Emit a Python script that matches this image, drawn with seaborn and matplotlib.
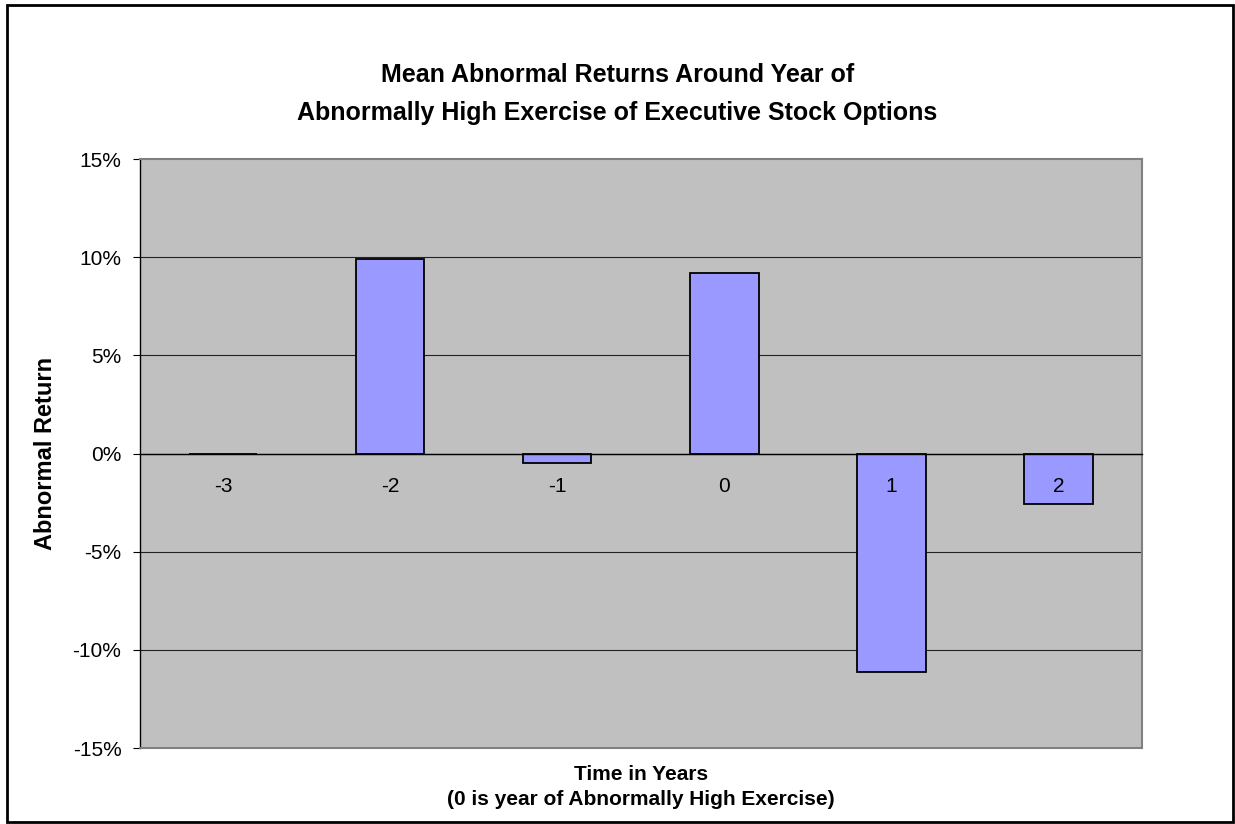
import numpy as np
import pandas as pd
import seaborn as sns
import matplotlib.pyplot as plt
from matplotlib.patches import Rectangle
from matplotlib.ticker import PercentFormatter, FixedLocator

years = ['-3', '-2', '-1', '0', '1', '2']
abn_returns = [0.0, 9.9, -0.5, 9.2, -11.15, -2.55]
y_ticks = [-15, -10, -5, 0, 5, 10, 15]

sns.set_theme(style="white", rc={'text.color': 'black', 'axes.labelcolor': 'black',
                                 'xtick.color': 'black', 'ytick.color': 'black'})
plt.rcParams['font.family'] = ['Liberation Sans', 'DejaVu Sans']
plt.rcParams['axes.unicode_minus'] = False

df = pd.DataFrame({'Year': years, 'Return': abn_returns})

fig = plt.figure(figsize=(12.35, 8.24), dpi=100)
ax = fig.add_axes([0.113, 0.0922, 0.8117, 0.7148])
ax.set_facecolor('#C0C0C0')

sns.barplot(data=df, x='Year', y='Return', order=years, color='#9999FF',
            saturation=1, width=0.41, edgecolor='black', linewidth=1.3, ax=ax)

ax.set_ylim(-15, 15)
ax.set_xlim(-0.5, len(years) - 0.5)
ax.yaxis.set_major_locator(FixedLocator(y_ticks))
ax.yaxis.set_major_formatter(PercentFormatter(decimals=0))
for t in y_ticks[1:-1]:
    ax.axhline(t, color='#222222', lw=0.8, zorder=0)

# zero axis with labels just under it, Excel style
ax.spines['bottom'].set_position(('data', 0))
ax.spines['bottom'].set_color('black')
ax.spines['bottom'].set_linewidth(1.0)
ax.spines['left'].set_color('black')
ax.spines['left'].set_linewidth(1.0)
for s in ['top', 'right']:
    ax.spines[s].set_color('#808080')
    ax.spines[s].set_linewidth(1.5)
ax.axhline(-15, color='#808080', lw=1.5, clip_on=False, zorder=5)
ax.xaxis.set_zorder(10)
ax.spines['bottom'].set_zorder(10)

ax.tick_params(axis='x', which='major', length=0, pad=17, labelsize=15, colors='black')
ax.set_xticks(np.arange(-0.5, len(years)), minor=True)
ax.tick_params(axis='x', which='minor', length=5, width=0.8, direction='out', color='#444444')
ax.tick_params(axis='y', length=5, width=0.8, direction='out', labelsize=15, pad=8, colors='black', left=True)

ax.set_xlabel('Time in Years\n(0 is year of Abnormally High Exercise)',
              fontsize=15, fontweight='bold', linespacing=1.45)
ax.xaxis.set_label_coords(0.5, -0.028)
ax.xaxis.label.set_verticalalignment('top')
ax.set_ylabel('Abnormal Return', fontsize=17, fontweight='bold')
ax.yaxis.set_label_coords(-0.082, 0.5)

fig.text(0.5, 1 - 75 / 824, 'Mean Abnormal Returns Around Year of',
         ha='center', va='center', fontsize=18, fontweight='bold')
fig.text(0.5, 1 - 113 / 824, 'Abnormally High Exercise of Executive Stock Options',
         ha='center', va='center', fontsize=18, fontweight='bold')

fig.patches.append(Rectangle((7 / 1235, 2 / 824), 1226 / 1235, 817 / 824,
                             transform=fig.transFigure, fill=False,
                             edgecolor='black', linewidth=2))

fig.savefig('out.png', dpi=100)
